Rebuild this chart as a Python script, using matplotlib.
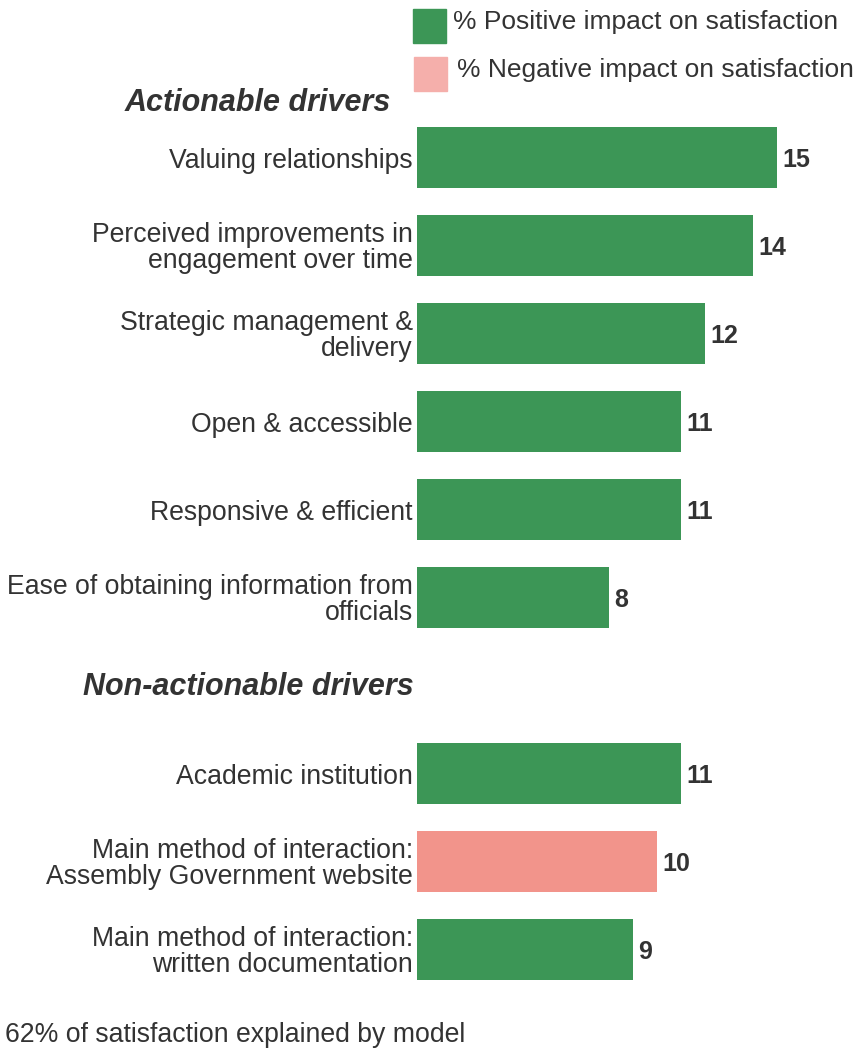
import matplotlib.pyplot as plt
from matplotlib.patches import Rectangle

# data
labels = ["Valuing relationships",
          "Perceived improvements in\nengagement over time",
          "Strategic management &\ndelivery",
          "Open & accessible",
          "Responsive & efficient",
          "Ease of obtaining information from\nofficials",
          "Academic institution",
          "Main method of interaction:\nAssembly Government website",
          "Main method of interaction:\nwritten documentation"]
values = [15, 14, 12, 11, 11, 8, 11, 10, 9]
impact = ["pos", "pos", "pos", "pos", "pos", "pos", "pos", "neg", "pos"]
slots = [0, 1, 2, 3, 4, 5, 7, 8, 9]   # slot 6 holds the second heading

GREEN = "#3C9656"
PINK = "#F2948B"
PINK_LEG = "#F5AFAB"
TXT = "#333333"

plt.rcParams['font.family'] = ['Liberation Sans', 'DejaVu Sans']

W, H = 857, 1050
fig = plt.figure(figsize=(W / 100, H / 100), dpi=100)
ax = fig.add_axes([417 / W, 0, 440 / W, 1])

colors = [GREEN if c == "pos" else PINK for c in impact]
bars = ax.barh(slots, values, height=0.69, color=colors)
for b, v in zip(bars, values):
    ax.annotate(str(v), (b.get_width(), b.get_y() + b.get_height() / 2),
                xytext=(4, -2), textcoords='offset points', va='center',
                fontsize=18, fontweight='bold', color=TXT)

ax.set_xlim(0, 440 / 24)
ax.set_ylim((H - 157.5) / 88, -157.5 / 88)
ax.set_yticks(slots)
ax.set_yticklabels(labels, fontsize=19.2, color=TXT, linespacing=1.0)
ax.tick_params(axis='y', length=0, pad=3)
ax.set_xticks([])
for s in ax.spines.values():
    s.set_visible(False)

# headings
fig.text(125 / W, 1 - 103 / H, "Actionable drivers", fontsize=22,
         fontweight='bold', fontstyle='italic', color=TXT, va='center')
fig.text(83 / W, 1 - 687 / H, "Non-actionable drivers", fontsize=22,
         fontweight='bold', fontstyle='italic', color=TXT, va='center')

# legend
fig.add_artist(Rectangle((413 / W, 1 - 43 / H), 33 / W, 34 / H,
                         transform=fig.transFigure, color=GREEN))
fig.text(453 / W, 1 - 22 / H, "% Positive impact on satisfaction",
         fontsize=19, color=TXT, va='center')
fig.add_artist(Rectangle((414 / W, 1 - 91 / H), 33 / W, 34 / H,
                         transform=fig.transFigure, color=PINK_LEG))
fig.text(457 / W, 1 - 70 / H, "% Negative impact on satisfaction",
         fontsize=19, color=TXT, va='center')

fig.text(5 / W, 1 - 1035 / H, "62% of satisfaction explained by model",
         fontsize=19.2, color=TXT, va='center')

fig.savefig("out.png", dpi=100)
